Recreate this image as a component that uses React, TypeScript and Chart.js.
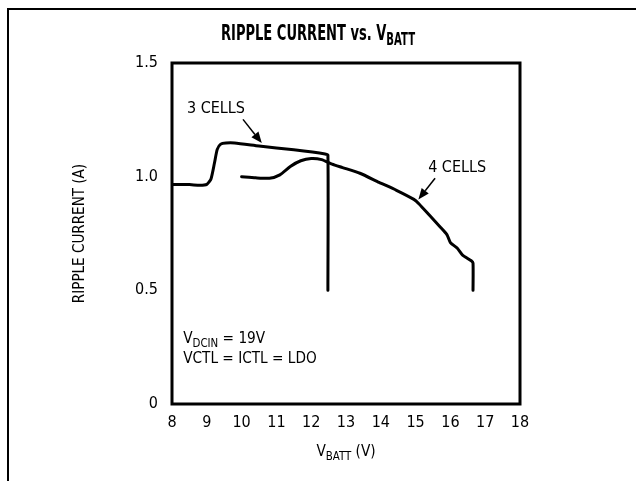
import React, { useEffect, useRef } from "react";
import { Chart, registerables } from "chart.js";

Chart.register(...registerables);

const FONT = "'Liberation Sans Narrow', 'DejaVu Sans Condensed', 'Arial Narrow', sans-serif";

// Data (V_BATT in volts, ripple current in amps)
const CELLS3_X = [8.0, 8.5, 8.8, 9.0, 9.12, 9.22, 9.3, 9.4, 9.55, 9.8, 10.5, 11.5, 12.4, 12.48, 12.48];
const CELLS3_Y = [0.965, 0.965, 0.962, 0.966, 0.99, 1.06, 1.12, 1.143, 1.148, 1.148, 1.135, 1.118, 1.1, 1.095, 0.5];

const CELLS4_X = [10.0, 10.4, 10.8, 11.1, 11.4, 11.7, 12.0, 12.3, 12.6, 12.9, 13.4, 13.95, 14.45, 14.95, 15.1, 15.4, 15.7, 15.9, 16.0, 16.2, 16.35, 16.6, 16.65, 16.65];
const CELLS4_Y = [1.0, 0.995, 0.993, 1.008, 1.045, 1.07, 1.08, 1.075, 1.055, 1.04, 1.015, 0.975, 0.94, 0.9, 0.88, 0.83, 0.78, 0.745, 0.71, 0.685, 0.655, 0.63, 0.62, 0.5];

const X_TICKS = [8, 9, 10, 11, 12, 13, 14, 15, 16, 17, 18];
const Y_TICKS = [0, 0.5, 1.0, 1.5];
const Y_TICK_LABELS = ["0", "0.5", "1.0", "1.5"];

type Part = { t: string; sub?: boolean };

function drawRich(ctx: CanvasRenderingContext2D, parts: Part[], x: number, y: number, size: number, bold: boolean, align: "left" | "center", sx = 1) {
  const w = bold ? "bold " : "";
  let total = 0;
  for (const p of parts) {
    ctx.font = `${w}${p.sub ? Math.round(size * 0.78) : size}px ${FONT}`;
    total += ctx.measureText(p.t).width;
  }
  total *= sx;
  ctx.save();
  ctx.translate(align === "center" ? x - total / 2 : x, y);
  ctx.scale(sx, 1);
  let cx = 0;
  ctx.textAlign = "left";
  ctx.textBaseline = "alphabetic";
  for (const p of parts) {
    ctx.font = `${w}${p.sub ? Math.round(size * 0.78) : size}px ${FONT}`;
    ctx.fillText(p.t, cx, p.sub ? size * 0.22 : 0);
    cx += ctx.measureText(p.t).width;
  }
  ctx.restore();
}

function arrow(ctx: CanvasRenderingContext2D, x1: number, y1: number, x2: number, y2: number) {
  const ang = Math.atan2(y2 - y1, x2 - x1);
  const head = 11;
  const hw = 4.5;
  const bx = x2 - head * Math.cos(ang);
  const by = y2 - head * Math.sin(ang);
  ctx.beginPath();
  ctx.moveTo(x1, y1);
  ctx.lineTo(bx, by);
  ctx.lineWidth = 1.5;
  ctx.stroke();
  ctx.beginPath();
  ctx.moveTo(x2, y2);
  ctx.lineTo(bx + hw * Math.sin(ang), by - hw * Math.cos(ang));
  ctx.lineTo(bx - hw * Math.sin(ang), by + hw * Math.cos(ang));
  ctx.closePath();
  ctx.fill();
}

const TXT = 16;
const SX = 0.95;

const decor = {
  id: "decor",
  beforeDraw(chart: any) {
    const ctx = chart.ctx as CanvasRenderingContext2D;
    ctx.save();
    ctx.fillStyle = "#fff";
    ctx.fillRect(0, 0, chart.width, chart.height);
    ctx.strokeStyle = "#000";
    ctx.lineWidth = 2;
    ctx.beginPath();
    ctx.moveTo(8, chart.height);
    ctx.lineTo(8, 9);
    ctx.lineTo(chart.width, 9);
    ctx.stroke();
    ctx.restore();
  },
  afterDatasetsDraw(chart: any) {
    const ctx = chart.ctx as CanvasRenderingContext2D;
    const a = chart.chartArea;
    const xs = chart.scales.x;
    const ys = chart.scales.y;
    const X = (v: number) => xs.getPixelForValue(v);
    const Y = (v: number) => ys.getPixelForValue(v);
    ctx.save();
    ctx.strokeStyle = "#000";
    ctx.fillStyle = "#000";
    ctx.lineWidth = 3;
    ctx.strokeRect(a.left, a.top, a.right - a.left, a.bottom - a.top);

    // title
    drawRich(ctx, [{ t: "RIPPLE CURRENT vs. V" }, { t: "BATT", sub: true }], 318, 40, 22, true, "center", 0.66);

    // y title
    ctx.save();
    ctx.translate(84, (a.top + a.bottom) / 2);
    ctx.rotate(-Math.PI / 2);
    drawRich(ctx, [{ t: "RIPPLE CURRENT (A)" }], 0, 0, TXT, false, "center", 0.94);
    ctx.restore();

    // x title
    drawRich(ctx, [{ t: "V" }, { t: "BATT", sub: true }, { t: " (V)" }], (a.left + a.right) / 2, 456, TXT, false, "center", SX);

    // annotations
    drawRich(ctx, [{ t: "3 CELLS" }], X(8.43), Y(1.28), TXT, false, "left", 1.0);
    arrow(ctx, X(10.04), Y(1.252), X(10.58), Y(1.148));
    drawRich(ctx, [{ t: "4 CELLS" }], X(15.36), Y(1.02), TXT, false, "left", 1.0);
    arrow(ctx, X(15.56), Y(0.993), X(15.08), Y(0.9));
    drawRich(ctx, [{ t: "V" }, { t: "DCIN", sub: true }, { t: " = 19V" }], X(8.32), Y(0.268), TXT, false, "left", SX);
    drawRich(ctx, [{ t: "VCTL = ICTL = LDO" }], X(8.32), Y(0.18), TXT, false, "left", SX);
    ctx.restore();
  },
};

export default function App() {
  const ref = useRef<HTMLCanvasElement>(null);
  useEffect(() => {
    if (!ref.current) return;
    const mk = (xs: number[], ys: number[]) => xs.map((x, i) => ({ x, y: ys[i] }));
    const chart = new Chart(ref.current, {
      type: "scatter",
      data: {
        datasets: [
          { label: "3 CELLS", data: mk(CELLS3_X, CELLS3_Y), showLine: true, borderColor: "#000", borderWidth: 3, pointRadius: 0, tension: 0.2, borderJoinStyle: "round", borderCapStyle: "round" } as any,
          { label: "4 CELLS", data: mk(CELLS4_X, CELLS4_Y), showLine: true, borderColor: "#000", borderWidth: 3, pointRadius: 0, tension: 0.2, borderJoinStyle: "round", borderCapStyle: "round" } as any,
        ],
      },
      options: {
        responsive: false,
        animation: false,
        layout: { padding: { left: 0, top: 63, right: 116, bottom: 0 } },
        plugins: { legend: { display: false }, tooltip: { enabled: false }, title: { display: false } },
        scales: {
          x: {
            type: "linear",
            min: X_TICKS[0],
            max: X_TICKS[X_TICKS.length - 1],
            afterBuildTicks: (s: any) => { s.ticks = X_TICKS.map((v) => ({ value: v })); },
            afterFit: (s: any) => { s.height = 77; },
            grid: { display: false, drawTicks: false },
            border: { display: false },
            ticks: { color: "#000", font: { family: FONT, size: 16 }, padding: 9, maxRotation: 0, autoSkip: false, callback: (v: any) => String(v) },
          },
          y: {
            type: "linear",
            min: Y_TICKS[0],
            max: Y_TICKS[Y_TICKS.length - 1],
            afterBuildTicks: (s: any) => { s.ticks = Y_TICKS.map((v) => ({ value: v })); },
            afterFit: (s: any) => { s.width = 172; },
            grid: { display: false, drawTicks: false },
            border: { display: false },
            ticks: { color: "#000", font: { family: FONT, size: 16 }, padding: 14, autoSkip: false, callback: (v: any) => Y_TICK_LABELS[Y_TICKS.indexOf(Number(v))] ?? "" },
          },
        },
      },
      plugins: [decor],
    });
    return () => chart.destroy();
  }, []);
  return (
    <div style={{ position: "fixed", left: 0, top: 0, width: 636, height: 481, background: "#fff" }}>
      <canvas ref={ref} width={636} height={481} style={{ display: "block" }} />
    </div>
  );
}
